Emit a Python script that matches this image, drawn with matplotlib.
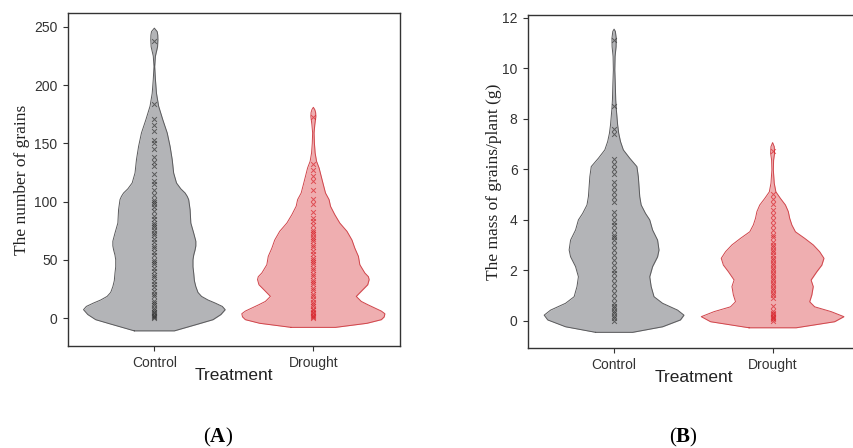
import matplotlib
matplotlib.use("Agg")
import matplotlib.pyplot as plt

plt.rcParams['mathtext.fontset'] = 'custom'
plt.rcParams['mathtext.bf'] = 'Liberation Serif:bold'

groups = ["Control", "Drought"]

# panel A - violin outline: value levels and relative half-widths
a_ctrl_y = [-11, -5, -1.4, 3, 7.2, 10, 12.9, 15.5, 18.6, 22, 27, 32, 38.7, 44, 50, 54, 58.7, 62,
            66, 73, 81.6, 93, 101.7, 104.5, 107.4, 111, 116, 124.6, 136, 147.5, 159, 170, 182, 193,
            205, 216, 225, 233, 239, 243, 246, 249]
a_ctrl_w = [0.28, 0.62, 0.82, 0.93, 0.99, 0.95, 0.85, 0.75, 0.66, 0.61, 0.58, 0.56, 0.55, 0.54,
            0.54, 0.55, 0.57, 0.58, 0.58, 0.55, 0.51, 0.50, 0.48, 0.46, 0.43, 0.37, 0.31, 0.27,
            0.25, 0.22, 0.18, 0.12, 0.06, 0.03, 0.015, 0.005, 0.015, 0.045, 0.05, 0.048, 0.04, 0.0]
a_drt_y = [-8, -4.5, -1.4, 1, 3.7, 6, 8.6, 11.5, 14.3, 18.6, 23, 28.6, 33, 35.5, 38.7, 45.8, 53,
           60, 67, 74.5, 81.6, 88.8, 96, 101.7, 107.4, 114.5, 121.7, 129, 134.6, 141.8, 150, 159,
           166, 173, 176.5, 179, 181]
a_drt_w = [0.31, 0.75, 0.95, 0.99, 1.0, 0.95, 0.86, 0.76, 0.67, 0.60, 0.67, 0.76, 0.78, 0.77,
           0.72, 0.65, 0.63, 0.58, 0.54, 0.47, 0.37, 0.30, 0.24, 0.22, 0.17, 0.14, 0.11, 0.08,
           0.045, 0.025, 0.015, 0.01, 0.02, 0.035, 0.032, 0.02, 0.0]
a_ctrl_pts = [238, 184, 171, 166, 161, 153, 150, 145, 138, 134, 131, 124, 118, 115, 110, 106, 101,
              100, 98, 95, 92, 88, 85, 82, 80, 78, 76, 73, 71, 68, 65, 62, 60, 57, 54, 50, 48, 46,
              43, 40, 37, 35, 32, 29, 27, 23, 21, 19, 15, 13, 11, 9, 7, 5, 4, 3, 2, 1, 0]
a_drt_pts = [173, 132, 127, 122, 118, 110, 102, 98, 91, 86, 83, 80, 76, 74, 72, 70, 68, 66, 63, 61,
             58, 55, 52, 50, 48, 46, 43, 41, 38, 36, 33, 31, 29, 26, 24, 21, 19, 16, 14, 12, 10, 8,
             7, 5, 4, 3, 2, 1, 0]

# panel B
b_ctrl_y = [-0.46, -0.24, 0.03, 0.22, 0.42, 0.69, 0.95, 1.35, 1.74, 2.14, 2.53, 2.8, 3.19, 3.59,
            3.99, 4.25, 4.58, 4.91, 5.3, 5.7, 6.1, 6.43, 6.76, 7.09, 7.42, 7.75, 8.08, 8.41, 8.74,
            9.27, 9.93, 10.46, 10.85, 11.18, 11.45, 11.54]
b_ctrl_w = [0.26, 0.68, 0.93, 0.98, 0.89, 0.68, 0.56, 0.52, 0.50, 0.54, 0.61, 0.63, 0.61, 0.54,
            0.50, 0.44, 0.38, 0.36, 0.35, 0.34, 0.32, 0.22, 0.13, 0.09, 0.065, 0.05, 0.04, 0.03, 0.023,
            0.018, 0.01, 0.014, 0.028, 0.03, 0.018, 0.0]
b_drt_y = [-0.28, -0.04, 0.16, 0.36, 0.55, 0.75, 1.02, 1.35, 1.61, 1.94, 2.2, 2.47, 2.73, 3.0,
           3.26, 3.52, 3.79, 4.05, 4.32, 4.58, 4.84, 5.1, 5.44, 5.97, 6.36, 6.63, 6.89, 7.05]
b_drt_w = [0.33, 0.87, 1.0, 0.82, 0.59, 0.52, 0.55, 0.57, 0.54, 0.62, 0.69, 0.72, 0.66, 0.57,
           0.45, 0.32, 0.27, 0.24, 0.22, 0.18, 0.11, 0.046, 0.023, 0.01, 0.014, 0.028, 0.023, 0.0]
b_ctrl_pts = [11.1, 8.5, 7.6, 7.4, 6.4, 6.2, 6.0, 5.8, 5.5, 5.3, 5.1, 4.9, 4.7, 4.3, 4.1, 3.9, 3.8,
              3.6, 3.4, 3.3, 3.2, 3.0, 2.8, 2.6, 2.4, 2.2, 2.0, 1.9, 1.7, 1.5, 1.3, 1.1, 0.9, 0.7,
              0.6, 0.5, 0.4, 0.3, 0.2, 0.1, 0.0]
b_drt_pts = [6.7, 5.0, 4.8, 4.6, 4.4, 4.2, 4.0, 3.8, 3.6, 3.4, 3.3, 3.1, 3.0, 2.9, 2.8, 2.7, 2.6,
             2.5, 2.4, 2.3, 2.2, 2.1, 2.0, 1.9, 1.8, 1.7, 1.6, 1.5, 1.4, 1.3, 1.2, 1.1, 1.0, 0.9,
             0.6, 0.4, 0.3, 0.25, 0.2, 0.15, 0.1, 0.05, 0.0]

fill_cols = ["#b3b4b7", "#efaeb0"]
edge_cols = ["#5a5a5c", "#d0454b"]
pt_cols = ["#333333", "#d8232a"]
half = 0.45

def violin(ax, pos, ys, ws, pts, i):
    left = [pos - half * w for w in ws]
    right = [pos + half * w for w in ws]
    ax.fill_betweenx(ys, left, right, color=fill_cols[i], lw=0, zorder=1)
    xs = left + right[::-1] + [left[0]]
    yy = ys + ys[::-1] + [ys[0]]
    ax.plot(xs, yy, color=edge_cols[i], lw=0.7, zorder=2, solid_joinstyle="round")
    ax.scatter([pos] * len(pts), pts, marker="x", s=12, lw=0.7,
               color=pt_cols[i], alpha=0.7, zorder=3)

fig = plt.figure(figsize=(8.54, 4.48), dpi=100)
axA = fig.add_axes([68 / 854, 1 - 346 / 448, 332 / 854, 333 / 448])
axB = fig.add_axes([528 / 854, 1 - 348 / 448, 331 / 854, 333 / 448])

violin(axA, 1, a_ctrl_y, a_ctrl_w, a_ctrl_pts, 0)
violin(axA, 2, a_drt_y, a_drt_w, a_drt_pts, 1)
violin(axB, 1, b_ctrl_y, b_ctrl_w, b_ctrl_pts, 0)
violin(axB, 2, b_drt_y, b_drt_w, b_drt_pts, 1)

axA.set_ylim(-24, 262)
axA.set_yticks([0, 50, 100, 150, 200, 250])
axA.set_ylabel("The number of grains", family="Liberation Serif", fontsize=12.5,
               color="#222", labelpad=3)
axB.set_ylim(-1.08, 12.1)
axB.set_yticks([0, 2, 4, 6, 8, 10, 12])
axB.set_ylabel("The mass of grains/plant (g)", family="Liberation Serif", fontsize=12.5,
               color="#222", labelpad=0)

for ax in (axA, axB):
    ax.set_xlim(0.457, 2.545)
    ax.set_xticks([1, 2])
    ax.set_xticklabels(groups)
    ax.set_xlabel("Treatment", family="Liberation Sans", fontsize=12.5, color="#222", labelpad=-2)
    ax.tick_params(length=3.5, width=0.8, color="#333", labelcolor="#333", labelsize=10, pad=4)
    for lab in ax.get_xticklabels() + ax.get_yticklabels():
        lab.set_family("Liberation Sans")
    for s in ax.spines.values():
        s.set_color("#333")
        s.set_linewidth(1.0)

fig.text(218 / 854, 1 - 437 / 448, r"($\mathbf{A}$)", ha="center", va="center",
         family="Liberation Serif", fontsize=15)
fig.text(683 / 854, 1 - 437 / 448, r"($\mathbf{B}$)", ha="center", va="center",
         family="Liberation Serif", fontsize=15)

fig.savefig("out.png", dpi=100)
